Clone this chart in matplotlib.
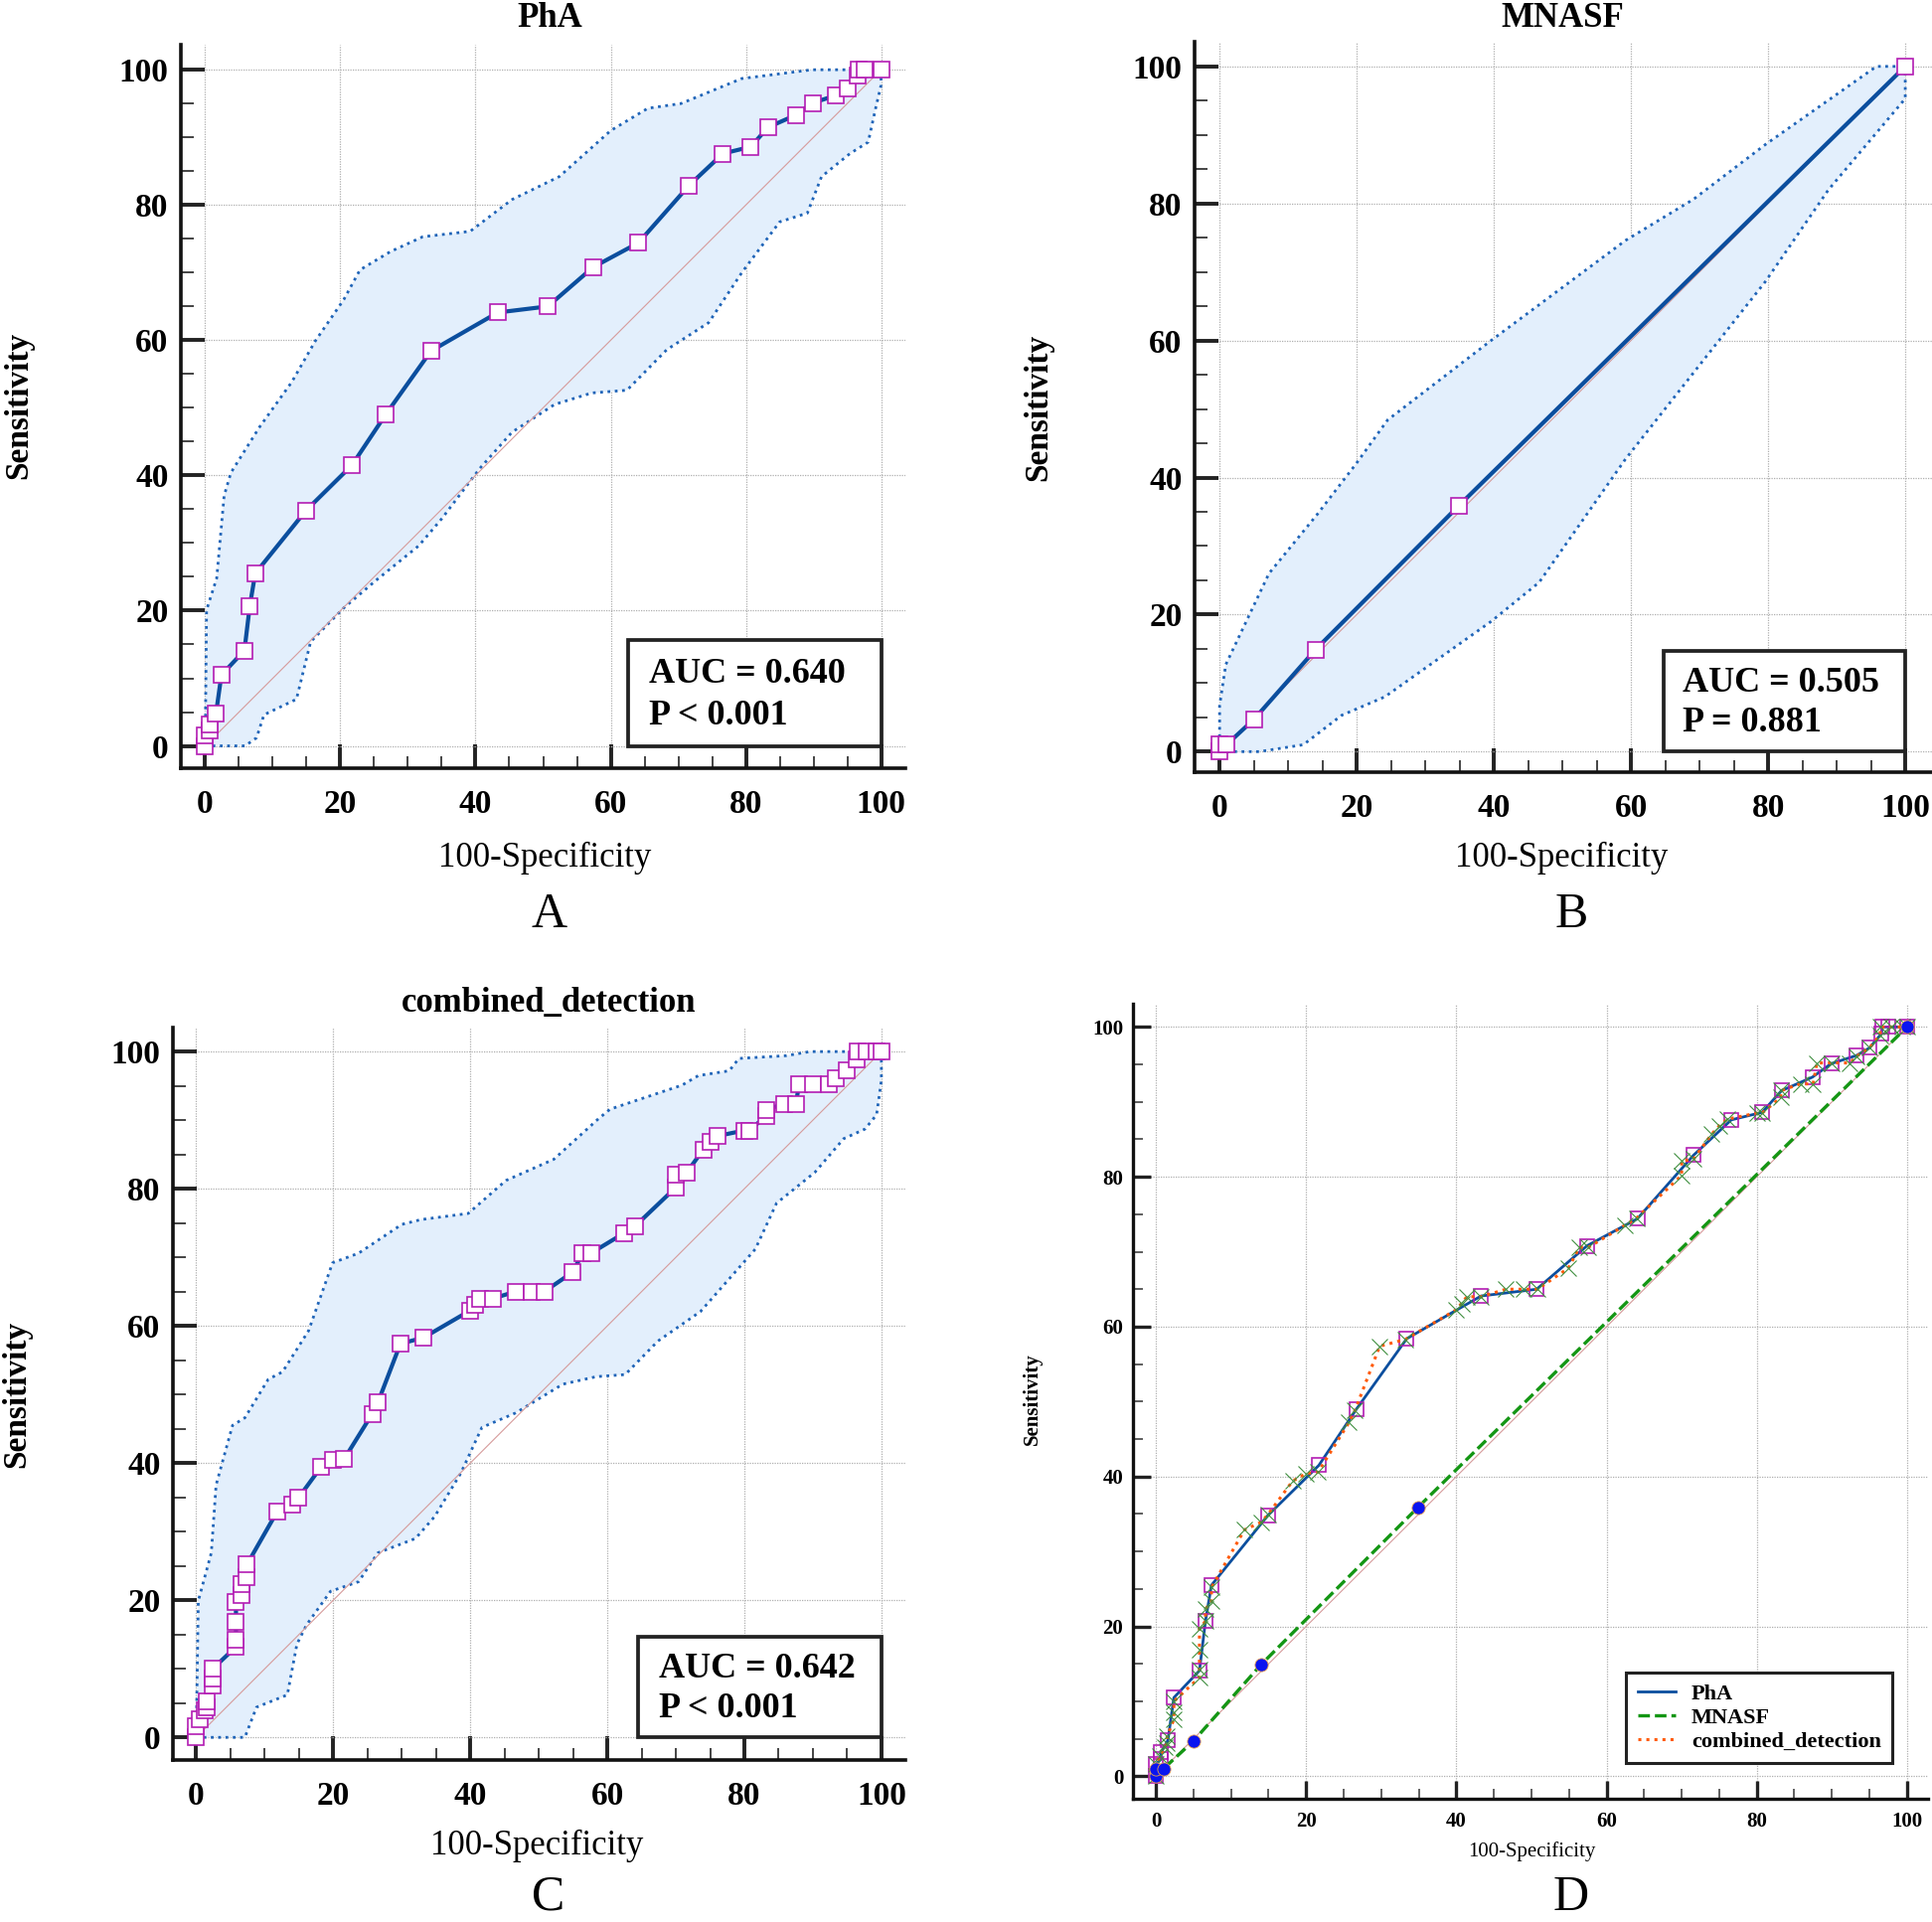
import matplotlib.pyplot as plt
from matplotlib.patches import Rectangle
from matplotlib.lines import Line2D
from matplotlib.ticker import MultipleLocator

plt.rcParams['font.family'] = ['Liberation Serif', 'DejaVu Serif']

# ---------------- data ----------------
ticks = [0, 20, 40, 60, 80, 100]
tick_labels = ['0', '20', '40', '60', '80', '100']

# PhA ROC curve (100-Specificity, Sensitivity)
pha_fpr = [0, 0, 0.7, 0.7, 1.6, 2.4, 5.8, 6.6, 7.4, 14.9, 21.7, 26.7, 33.4, 43.3,
           50.7, 57.4, 64.1, 71.6, 76.6, 80.7, 83.3, 87.4, 89.9, 93.3, 95.0,
           96.6, 96.7, 97.5, 100]
pha_sens = [0, 1.6, 2.3, 3.2, 4.8, 10.5, 14.1, 20.7, 25.5, 34.8, 41.5, 49.0, 58.4,
            64.1, 65.0, 70.8, 74.4, 82.9, 87.6, 88.6, 91.5, 93.3, 95.1, 96.2,
            97.2, 99.1, 100, 100, 100]
pha_up_x = [0, 0.2, 1.7, 2.8, 3.8, 8.0, 12.8, 16.3, 20.5, 22.9, 27.4, 32.2, 39.2,
            45.4, 52.4, 60.0, 65.5, 70.4, 79.4, 89.8, 100]
pha_up_y = [0, 20.1, 24.8, 37.0, 40.4, 47.1, 53.8, 59.9, 66.0, 70.4, 73.1, 75.3,
            76.1, 80.8, 84.2, 91.0, 94.3, 95.0, 98.7, 100, 100]
pha_lo_x = [0, 5.9, 7.6, 8.7, 13.5, 15.6, 20.5, 25.3, 31.6, 35.0, 40.6, 45.4, 51.7,
            57.2, 62.4, 68.3, 74.5, 79.4, 85.0, 89.1, 91.2, 95.4, 98.1, 99.2, 100, 100]
pha_lo_y = [0, 0, 1.2, 4.6, 6.9, 15.4, 20.4, 24.5, 29.6, 33.6, 41.0, 46.4, 50.5,
            52.2, 52.6, 58.6, 62.6, 70.0, 77.5, 78.8, 84.2, 87.6, 89.3, 94.3, 97.7, 100]

# MNASF ROC curve
mna_fpr = [0, 0, 1.0, 5.0, 14.0, 34.9, 100]
mna_sens = [0, 1.0, 1.0, 4.7, 14.9, 35.9, 100]
mna_up_x = [0, 0, 0.9, 7.2, 14.3, 19.9, 24.5, 39.6, 59.2, 69.1, 79.6, 95.8, 100]
mna_up_y = [0, 6.7, 12.7, 26.0, 34.7, 42.0, 48.4, 60.0, 74.6, 80.6, 88.6, 100, 100]
mna_lo_x = [0, 5.8, 12.2, 17.8, 24.1, 39.6, 46.6, 59.2, 79.6, 88.8, 100, 100]
mna_lo_y = [0, 0, 1.0, 5.3, 8.0, 19.0, 24.7, 42.7, 68.6, 82.0, 95.3, 100]

# combined_detection ROC curve
com_fpr = [0, 0, 0.5, 1.2, 1.5, 1.5, 2.4, 2.4, 2.4, 5.8, 5.8, 5.8, 5.8, 6.6, 6.6,
           7.4, 7.4, 11.8, 14.0, 14.9, 18.2, 20.0, 21.6, 25.7, 26.5, 29.8, 33.2,
           39.9, 40.7, 41.4, 43.3, 46.6, 49.0, 50.8, 54.9, 56.4, 57.6, 62.4, 64.0,
           70.0, 70.0, 71.6, 74.0, 75.0, 76.1, 80.0, 80.7, 83.2, 83.2, 85.8, 87.5,
           88.0, 90.0, 92.4, 93.3, 95.0, 96.4, 96.5, 97.9, 99.3, 100]
com_sens = [0, 1.6, 2.7, 3.9, 4.4, 5.3, 7.6, 8.6, 10.0, 13.2, 14.3, 16.9, 19.7, 20.7,
            22.3, 23.4, 25.2, 32.9, 33.9, 34.9, 39.4, 40.4, 40.6, 47.2, 48.8, 57.4,
            58.3, 62.2, 63.1, 64.0, 64.0, 65.0, 65.0, 65.0, 67.8, 70.6, 70.6, 73.5,
            74.5, 80.2, 82.1, 82.4, 85.7, 86.8, 87.7, 88.5, 88.5, 90.6, 91.5, 92.4,
            92.4, 95.2, 95.2, 95.2, 96.1, 97.2, 98.9, 100, 100, 100, 100]
com_up_x = [0, 0.3, 2.2, 2.9, 5.3, 7.1, 10.5, 12.6, 16.4, 19.9, 23.7, 30.0, 32.8,
            39.7, 45.2, 52.2, 58.7, 60.4, 70.9, 73.3, 77.8, 79.2, 86.1, 89.6, 100]
com_up_y = [0, 19.9, 26.9, 36.8, 45.5, 46.6, 52.2, 53.3, 59.3, 69.2, 70.6, 74.8,
            75.5, 76.4, 81.2, 84.3, 90.2, 91.6, 95.1, 96.5, 97.2, 99.0, 99.4, 100, 100]
com_lo_x = [0, 7.1, 8.8, 13.3, 14.7, 16.1, 19.6, 23.7, 26.5, 32.0, 34.8, 38.6, 41.7,
            46.6, 53.5, 58.4, 62.6, 67.4, 73.6, 81.6, 84.7, 90.3, 94.5, 97.6, 99.3,
            100, 100]
com_lo_y = [0, 0, 4.4, 6.2, 13.6, 16.4, 21.3, 22.7, 26.9, 29.0, 32.2, 38.5, 45.2,
            47.3, 51.5, 52.6, 52.9, 57.8, 62.1, 71.2, 77.9, 82.4, 87.3, 88.7, 90.8,
            95.8, 100]

panels = ['PhA', 'MNASF', 'combined_detection']
auc_text = ['AUC = 0.640\nP < 0.001', 'AUC = 0.505\nP = 0.881', 'AUC = 0.642\nP < 0.001']

# ---------------- styling ----------------
W, H = 1944, 1934
ROC_BLUE = '#0b4e9e'
CI_BLUE = '#1f64b8'
FILL = '#e3effc'
MAG = '#b31db3'
DIAG = '#d69b9b'


def fx(x):
    return x / W


def fy(y):
    return 1 - y / H


def make_axes(left, right, top, bottom):
    return fig.add_axes([fx(left), fy(bottom), (right - left) / W, (bottom - top) / H])


def style(ax, xlim, ylim, fs, maj_len, min_len, maj_w, min_w, spine_w, xpad, ypad):
    ax.set_xlim(*xlim)
    ax.set_ylim(*ylim)
    for s in ['top', 'right']:
        ax.spines[s].set_visible(False)
    for s in ['left', 'bottom']:
        ax.spines[s].set_linewidth(spine_w)
        ax.spines[s].set_color('#111111')
    ax.set_xticks(ticks)
    ax.set_xticklabels(tick_labels, fontsize=fs, fontweight='bold')
    ax.set_yticks(ticks)
    ax.set_yticklabels(tick_labels, fontsize=fs, fontweight='bold')
    ax.xaxis.set_minor_locator(MultipleLocator(5))
    ax.yaxis.set_minor_locator(MultipleLocator(5))
    ax.tick_params(which='major', direction='in', length=maj_len, width=maj_w, color='#222222')
    ax.tick_params(which='minor', direction='in', length=min_len, width=min_w, color='#444444')
    ax.tick_params(axis='x', which='major', pad=xpad)
    ax.tick_params(axis='y', which='major', pad=ypad)
    ax.grid(True, which='major', color='#b0b0b0', linestyle=(0, (1, 1)), linewidth=0.9)
    ax.set_axisbelow(True)


def roc_panel(ax, fpr, sens, up_x, up_y, lo_x, lo_y, txt, box, txt_pos):
    ax.fill(up_x + lo_x[::-1], up_y + lo_y[::-1], color=FILL, lw=0, zorder=1)
    ax.plot(up_x, up_y, color=CI_BLUE, lw=2.0, linestyle=':', zorder=2)
    ax.plot(lo_x, lo_y, color=CI_BLUE, lw=2.0, linestyle=':', zorder=2)
    ax.plot([0, 100], [0, 100], color=DIAG, lw=0.8, zorder=2)
    ax.plot(fpr, sens, color=ROC_BLUE, lw=3.0, zorder=3)
    ax.plot(fpr, sens, linestyle='none', marker='s', ms=11.5, mfc='white', mec=MAG,
            mew=1.2, zorder=4, clip_on=False)
    ax.add_patch(Rectangle((box[0], box[1]), box[2], box[3], facecolor='white',
                           edgecolor='#222222', lw=2.7, zorder=5))
    lines = txt.split('\n')
    ax.text(txt_pos[0], txt_pos[1], lines[0], fontsize=26, fontweight='bold',
            va='baseline', ha='left', zorder=6)
    ax.text(txt_pos[0], txt_pos[2], lines[1], fontsize=26, fontweight='bold',
            va='baseline', ha='left', zorder=6)


fig = plt.figure(figsize=(W / 100, H / 100), dpi=100)

big = dict(fs=24, maj_len=17, min_len=9, maj_w=2.8, min_w=1.4, spine_w=2.6, xpad=15, ypad=9)

# ---- A ----
axA = make_axes(182, 911, 45, 773)
style(axA, (-3.6, 103.6), (-3.3, 103.7), **big)
roc_panel(axA, pha_fpr, pha_sens, pha_up_x, pha_up_y, pha_lo_x, pha_lo_y,
          auc_text[0], (62.6, 0, 37.4, 15.6), (65.7, 9.4, 3.2))

# ---- B ----
axB = make_axes(1202, 1944, 42, 777)
style(axB, (-3.65, 103.9), (-3.0, 103.6), **big)
roc_panel(axB, mna_fpr, mna_sens, mna_up_x, mna_up_y, mna_lo_x, mna_lo_y,
          auc_text[1], (64.7, 0, 35.3, 14.7), (67.5, 8.8, 3.0))

# ---- C ----
axC = make_axes(174, 911, 1034, 1771)
style(axC, (-3.4, 103.5), (-3.3, 103.5), **big)
roc_panel(axC, com_fpr, com_sens, com_up_x, com_up_y, com_lo_x, com_lo_y,
          auc_text[2], (64.5, 0, 35.5, 14.6), (67.5, 8.8, 3.0))

# ---- D: comparison ----
axD = make_axes(1140, 1940, 1010, 1810)
style(axD, (-3.05, 102.8), (-3.0, 103.1), fs=15, maj_len=13, min_len=7, maj_w=2.4,
      min_w=1.2, spine_w=2.4, xpad=9, ypad=7)
axD.plot([0, 100], [0, 100], color=DIAG, lw=0.8, zorder=2)
axD.plot(pha_fpr, pha_sens, color=ROC_BLUE, lw=2.0, marker='s', ms=10.5, mfc='none',
         mec=MAG, mew=1.2, zorder=3, clip_on=False)
axD.plot(mna_fpr, mna_sens, color='#149614', lw=2.4, linestyle=(0, (3.5, 1.5)), zorder=4)
axD.plot(com_fpr, com_sens, color='#ff5a0a', lw=2.2, linestyle=':', zorder=5)
axD.plot(com_fpr, com_sens, linestyle='none', marker='x', ms=11, mec='#3f8f3f',
         mew=0.8, zorder=6, clip_on=False)
axD.plot(mna_fpr, mna_sens, linestyle='none', marker='o', ms=9.5, mfc='#0a14f0',
         mec='#e8a050', mew=0.6, zorder=7, clip_on=False)
handles = [Line2D([], [], color=ROC_BLUE, lw=2.0),
           Line2D([], [], color='#149614', lw=2.4, linestyle=(0, (3.5, 1.5))),
           Line2D([], [], color='#ff5a0a', lw=2.2, linestyle=':')]
leg = axD.legend(handles, panels, loc='lower right', bbox_to_anchor=(0.955, 0.045),
                 borderaxespad=0, fancybox=False, framealpha=1, edgecolor='#222222',
                 prop={'size': 16, 'weight': 'bold'}, handlelength=1.75,
                 handletextpad=0.7, labelspacing=0.15, borderpad=0.5)
leg.get_frame().set_linewidth(2.2)
leg.set_zorder(10)

# ---- titles, axis labels, panel letters ----
fig.text(fx(553), fy(27), panels[0], fontsize=25, fontweight='bold', ha='center', va='baseline')
fig.text(fx(1572), fy(27), panels[1], fontsize=25, fontweight='bold', ha='center', va='baseline')
fig.text(fx(552), fy(1018), panels[2], fontsize=25, fontweight='bold', ha='center', va='baseline')

fig.text(fx(548), fy(872), '100-Specificity', fontsize=25, ha='center', va='baseline')
fig.text(fx(1571), fy(872), '100-Specificity', fontsize=25, ha='center', va='baseline')
fig.text(fx(540), fy(1866), '100-Specificity', fontsize=25, ha='center', va='baseline')
fig.text(fx(1541), fy(1868), '100-Specificity', fontsize=15, ha='center', va='baseline')

fig.text(fx(19), fy(408), 'Sensitivity', fontsize=24, fontweight='bold', rotation=90,
         ha='center', va='center')
fig.text(fx(1045), fy(410), 'Sensitivity', fontsize=24, fontweight='bold', rotation=90,
         ha='center', va='center')
fig.text(fx(17), fy(1403), 'Sensitivity', fontsize=24, fontweight='bold', rotation=90,
         ha='center', va='center')
fig.text(fx(1039), fy(1408), 'Sensitivity', fontsize=15, fontweight='bold', rotation=90,
         ha='center', va='center')

for lx, ly, letter in [(553, 933, 'A'), (1581, 933, 'B'), (552, 1922, 'C'), (1581, 1922, 'D')]:
    fig.text(fx(lx), fy(ly), letter, fontsize=36, ha='center', va='baseline')

fig.savefig('out.png', dpi=100)
